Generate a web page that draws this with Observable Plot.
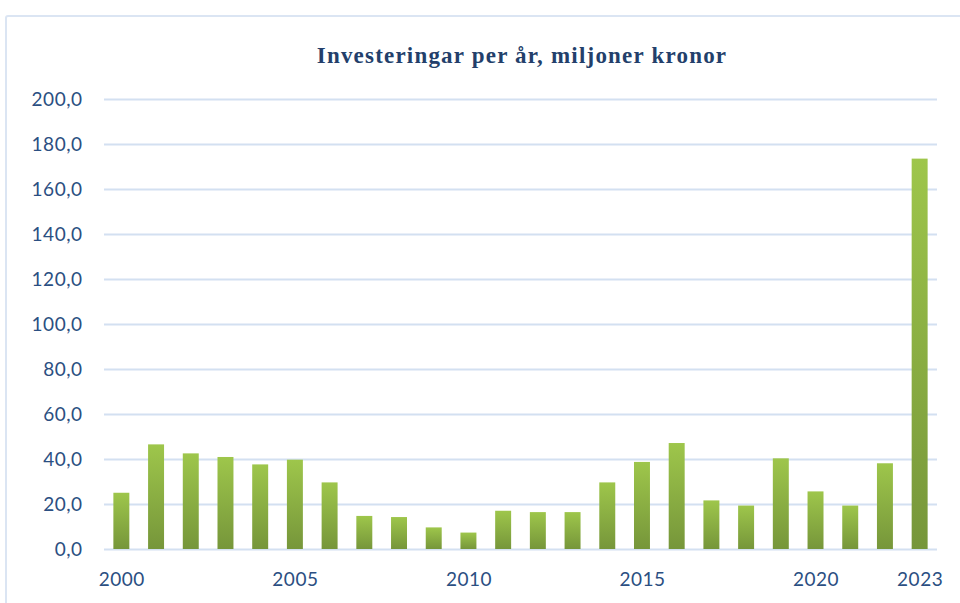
<!DOCTYPE html>
<html>
<head>
<meta charset="utf-8">
<script src="https://cdn.jsdelivr.net/npm/d3@7"></script>
<script src="https://cdn.jsdelivr.net/npm/@observablehq/plot@0.6"></script>
<style>
  html, body { margin: 0; padding: 0; background: #fff; width: 960px; height: 603px; overflow: hidden; }
  #frame { position: absolute; left: 5px; top: 15px; width: 1000px; height: 640px; border: 2px solid #dbe5f3; border-radius: 3px; box-sizing: border-box; }
  #title { position: absolute; left: 0; top: 43px; width: 1044px; text-align: center; font-family: "Liberation Serif", serif; font-weight: bold; font-size: 23px; color: #233f6b; letter-spacing: 1.2px; }
  #chart { position: absolute; left: 0; top: 80px; }
</style>
</head>
<body>
<div id="frame"></div>
<div id="title">Investeringar per år, miljoner kronor</div>
<div id="chart"></div>
<script>
const years = [2000, 2001, 2002, 2003, 2004, 2005, 2006, 2007, 2008, 2009, 2010, 2011,
               2012, 2013, 2014, 2015, 2016, 2017, 2018, 2019, 2020, 2021, 2022, 2023];
const values = [25.0, 46.5, 42.5, 40.9, 37.6, 39.7, 29.6, 14.7, 14.2, 9.6, 7.3, 17.0,
                16.4, 16.4, 29.6, 38.7, 47.1, 21.6, 19.3, 40.3, 25.6, 19.3, 38.1, 173.5];
const xTickLabels = [2000, 2005, 2010, 2015, 2020, 2023];
const yTicks = [0, 20, 40, 60, 80, 100, 120, 140, 160, 180, 200];

const data = years.map((y, i) => ({year: y, value: values[i]}));
const fmt = v => d3.format(".1f")(v).replace(".", ",");

const plot = Plot.plot({
  width: 960,
  height: 523,
  marginTop: 19,
  marginBottom: 54,
  marginLeft: 104,
  marginRight: 23,
  style: {fontFamily: "Lato, 'Liberation Sans', sans-serif", fontSize: "19px", color: "#2b4f82", background: "transparent", letterSpacing: "0.5px"},
  x: {type: "band", domain: years, paddingInner: 0.54, paddingOuter: 0.27, round: false, label: null},
  y: {domain: [0, 200], label: null},
  marks: [
    Plot.ruleY(yTicks, {stroke: "#d3e0f1", strokeWidth: 2}),
    Plot.barY(data, {x: "year", y: "value", fill: "url(#barGrad)"}),
    Plot.axisX({ticks: xTickLabels, tickSize: 0, tickPadding: 23, tickFormat: d => String(d), label: null, fill: "#2b4f82"}),
    Plot.axisY({ticks: yTicks, tickSize: 0, tickPadding: 22, tickFormat: fmt, label: null, fill: "#2b4f82"})
  ]
});

const svg = d3.select(plot);
const defs = svg.insert("defs", ":first-child");
const g = defs.append("linearGradient").attr("id", "barGrad").attr("x1", 0).attr("y1", 0).attr("x2", 0).attr("y2", 1);
g.append("stop").attr("offset", "0%").attr("stop-color", "#9ec64b");
g.append("stop").attr("offset", "100%").attr("stop-color", "#76963a");
document.getElementById("chart").appendChild(plot);
</script>
</body>
</html>
